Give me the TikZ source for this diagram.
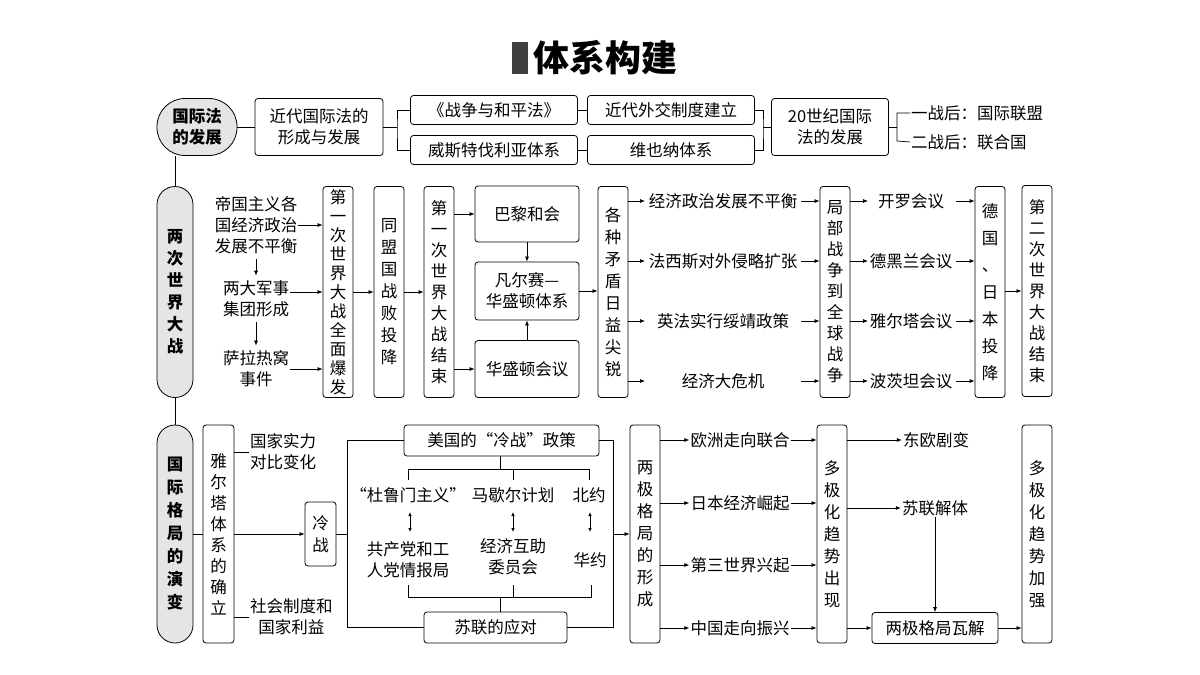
\documentclass[tikz,border=0pt]{standalone}
\usepackage{fontspec}
\setmainfont{Noto Sans CJK SC}
\usetikzlibrary{arrows.meta}
\begin{document}
\begin{tikzpicture}[x=1pt,y=-1pt,
 bx/.style={draw,rounded corners=3pt,line width=0.8pt,inner sep=0pt,align=center,font=\fontsize{16.5}{21}\selectfont},
 vb/.style={bx,minimum width=30pt,font=\fontsize{16.5}{#1}\selectfont},
 st/.style={draw,line width=0.8pt,fill=gray!20,inner sep=0pt,align=center,font=\fontsize{16.5}{#1}\selectfont\bfseries},
 tx/.style={inner sep=1pt,align=center,font=\fontsize{16.5}{21}\selectfont},
 ln/.style={line width=0.7pt},
 ar/.style={line width=0.7pt,-{Latex[length=5pt,width=4pt]}},
 da/.style={line width=0.7pt,{Latex[length=4pt,width=3.5pt]}-{Latex[length=4pt,width=3.5pt]}}]
\useasboundingbox (0,0) rectangle (1200,675);
% title
\fill[black!75] (512,42) rectangle (528,74);
\node[inner sep=0pt,anchor=west,font=\fontsize{36}{38}\selectfont\bfseries] (title) at (533,58) {体系构建};
% row 1
\node[st=21,rounded corners=28pt,minimum width=80pt,minimum height=57pt] (s1) at (197,127) {国际法\\的发展};
\node[bx,minimum width=128pt,minimum height=57pt] (a1) at (319,127) {近代国际法的\\形成与发展};
\node[bx,minimum width=167pt,minimum height=29pt] (a2) at (494,110) {《战争与和平法》};
\node[bx,minimum width=167pt,minimum height=29pt] (a3) at (494,150) {威斯特伐利亚体系};
\node[bx,minimum width=167pt,minimum height=29pt] (a4) at (671,110) {近代外交制度建立};
\node[bx,minimum width=167pt,minimum height=29pt] (a5) at (671,150) {维也纳体系};
\node[bx,minimum width=117pt,minimum height=57pt] (a6) at (830,127) {20世纪国际\\法的发展};
\node[tx,anchor=west] (a7) at (910,113) {一战后：国际联盟};
\node[tx,anchor=west] (a8) at (910,142) {二战后：联合国};
\draw[ln] (s1.east) -- (a1.west);
\draw[ln] (a1.east) -- (397,127);
\draw[ln] (a2.west) -| (397,127) |- (a3.west);
\draw[ln] (a2.east) -- (a4.west);
\draw[ln] (a3.east) -- (a5.west);
\draw[ln] (a4.east) -| (763,127) |- (a5.east);
\draw[ln] (763,127) -- (a6.west);
\draw[ln] (a6.east) -- (897,127);
\draw[ln] (a7.west) -- (897,113) -- (897,141) -- (a8.west);
% row 2
\node[st=22,rounded corners=18pt,minimum width=36pt,minimum height=211pt] (s2) at (175,292) {两\\次\\世\\界\\大\\战};
\draw[ln] (s1.south -| s2) -- (s2.north);
\node[tx] (b1) at (256,225) {帝国主义各\\国经济政治\\发展不平衡};
\node[tx] (b2) at (256,299) {两大军事\\集团形成};
\node[tx] (b3) at (256,369) {萨拉热窝\\事件};
\draw[ar,shorten <=4pt,shorten >=4pt] (b1.south) -- (b2.north);
\draw[ar,shorten <=4pt,shorten >=4pt] (b2.south) -- (b3.north);
\node[vb=19,minimum height=211pt] (c1) at (338,292) {第\\一\\次\\世\\界\\大\\战\\全\\面\\爆\\发};
\node[vb=22,minimum height=211pt] (c2) at (389,292) {同\\盟\\国\\战\\败\\投\\降};
\node[vb=21,minimum height=211pt] (c3) at (439,292) {第\\一\\次\\世\\界\\大\\战\\结\\束};
\draw[ar] (b1.east) -- (b1.east -| c1.west);
\draw[ar] (b2.east |- 0,292) -- (c1.west |- 0,292);
\draw[ar] (b3.east) -- (b3.east -| c1.west);
\draw[ar] (c1.east) -- (c2.west);
\draw[ar] (c2.east) -- (c3.west);
\node[bx,minimum width=104pt,minimum height=56pt] (d1) at (527,214) {巴黎和会};
\node[bx,minimum width=104pt,minimum height=58pt] (d2) at (527,291) {凡尔赛—\\华盛顿体系};
\node[bx,minimum width=104pt,minimum height=57pt] (d3) at (527,369) {华盛顿会议};
\draw[ar] (c3.east |- d1) -- (d1.west);
\draw[ar] (c3.east |- d3) -- (d3.west);
\draw[ar] (d1.south) -- (d2.north);
\draw[ar] (d3.north) -- (d2.south);
\node[vb=22,minimum height=211pt] (e1) at (613,292) {各\\种\\矛\\盾\\日\\益\\尖\\锐};
\draw[ar] (d2.east) -- (e1.west |- d2.east);
\node[tx] (f1) at (723,201) {经济政治发展不平衡};
\node[tx] (f2) at (723,261) {法西斯对外侵略扩张};
\node[tx] (f3) at (723,321) {英法实行绥靖政策};
\node[tx] (f4) at (723,381) {经济大危机};
\node[vb=21,minimum height=211pt] (g1) at (835,292) {局\\部\\战\\争\\到\\全\\球\\战\\争};
\foreach \f in {f1,f2,f3,f4}{
 \draw[ar] (e1.east |- \f) -- (645,0 |- \f);
 \draw[ar] (801,0 |- \f) -- (g1.west |- \f);}
\node[tx] (h1) at (911,201) {开罗会议};
\node[tx] (h2) at (911,261) {德黑兰会议};
\node[tx] (h3) at (911,321) {雅尔塔会议};
\node[tx] (h4) at (911,381) {波茨坦会议};
\node[vb=27,minimum height=211pt] (i1) at (990,292) {德\\国\\、\\日\\本\\投\\降};
\foreach \h in {h1,h2,h3,h4}{
 \draw[ar] (g1.east |- \h) -- (868,0 |- \h);
 \draw[ar] (956,0 |- \h) -- (i1.west |- \h);}
\node[vb=21,minimum height=211pt] (j1) at (1037,291) {第\\二\\次\\世\\界\\大\\战\\结\\束};
\draw[ar] (i1.east |- j1) -- (j1.west);
% row 3
\node[st=23,rounded corners=18pt,minimum width=36pt,minimum height=218pt] (s3) at (175,534) {国\\际\\格\\局\\的\\演\\变};
\draw[ln] (s2.south) -- (s3.north);
\node[vb=21,minimum height=218pt,minimum width=31pt] (k1) at (218.5,534) {雅\\尔\\塔\\体\\系\\的\\确\\立};
\draw[ln] (s3.east) -- (k1.west);
\node[tx,anchor=west] (k2) at (249,452) {国家实力\\对比变化};
\node[tx,anchor=west] (k3) at (249,617) {社会制度和\\国家利益};
\draw[ln] (k1.east |- k2) -- (k2.west);
\draw[ln] (k1.east |- k3) -- (k3.west);
\node[vb=22,minimum height=64pt,minimum width=31pt] (l1) at (320.5,534) {冷\\战};
\draw[ar] (k1.east |- l1) -- (l1.west);
\node[bx,minimum width=195pt,minimum height=31pt] (m1) at (501.5,440.5) {美国的“冷战”政策};
\node[bx,minimum width=143pt,minimum height=31pt] (m2) at (495.5,627.5) {苏联的应对};
\draw[ln] (l1.east) -- (347,534);
\draw[ln] (m1.west) -- (347,440.5) -- (347,627.5) -- (m2.west);
\draw[ln] (m1.east) -- (613,440.5) -- (613,627.5) -- (m2.east);
\node[tx] (n1) at (408,495) {“杜鲁门主义”};
\node[tx] (n2) at (513,495) {马歇尔计划};
\node[tx] (n3) at (589,495) {北约};
\node[tx] (o1) at (408,560) {共产党和工\\人党情报局};
\node[tx] (o2) at (513,557) {经济互助\\委员会};
\node[tx] (o3) at (590,560) {华约};
\draw[ln] (m1.south -| 500,0) -- (500,469);
\draw[ln] (408,480) -- (408,469) -- (589,469) -- (589,480);
\draw[ln] (513,469) -- (513,480);
\draw[ln] (408,585) -- (408,597) -- (591,597) -- (591,585);
\draw[ln] (513,585) -- (513,597);
\draw[ln] (500,597) -- (m2.north -| 500,0);
\draw[da] (410,512) -- (410,532);
\draw[da] (513,512) -- (513,532);
\draw[da] (590,512) -- (590,532);
\node[vb=22,minimum height=218pt] (p1) at (645,534) {两\\极\\格\\局\\的\\形\\成};
\draw[ar] (613,534) -- (p1.west);
\node[tx] (q1) at (740,440) {欧洲走向联合};
\node[tx] (q2) at (740,503) {日本经济崛起};
\node[tx] (q3) at (740,565) {第三世界兴起};
\node[tx] (q4) at (740,628) {中国走向振兴};
\node[vb=22,minimum height=218pt] (r1) at (832,534) {多\\极\\化\\趋\\势\\出\\现};
\foreach \q in {q1,q2,q3,q4}{
 \draw[ar] (p1.east |- \q) -- (\q.west);
 \draw[ar] (\q.east) -- (r1.west |- \q);}
\node[tx] (t1) at (936,440) {东欧剧变};
\node[tx] (t2) at (935,508) {苏联解体};
\node[bx,minimum width=126pt,minimum height=31pt] (t3) at (935,628) {两极格局瓦解};
\draw[ar] (r1.east |- t1) -- (t1.west);
\draw[ar] (r1.east |- t2) -- (t2.west);
\draw[ar] (t2.south) -- (t3.north);
\draw[ar] (r1.east |- t3) -- (t3.west);
\node[vb=22,minimum height=218pt] (u1) at (1037,534) {多\\极\\化\\趋\\势\\加\\强};
\draw[ar] (t3.east) -- (u1.west |- t3);
\end{tikzpicture}
\end{document}
